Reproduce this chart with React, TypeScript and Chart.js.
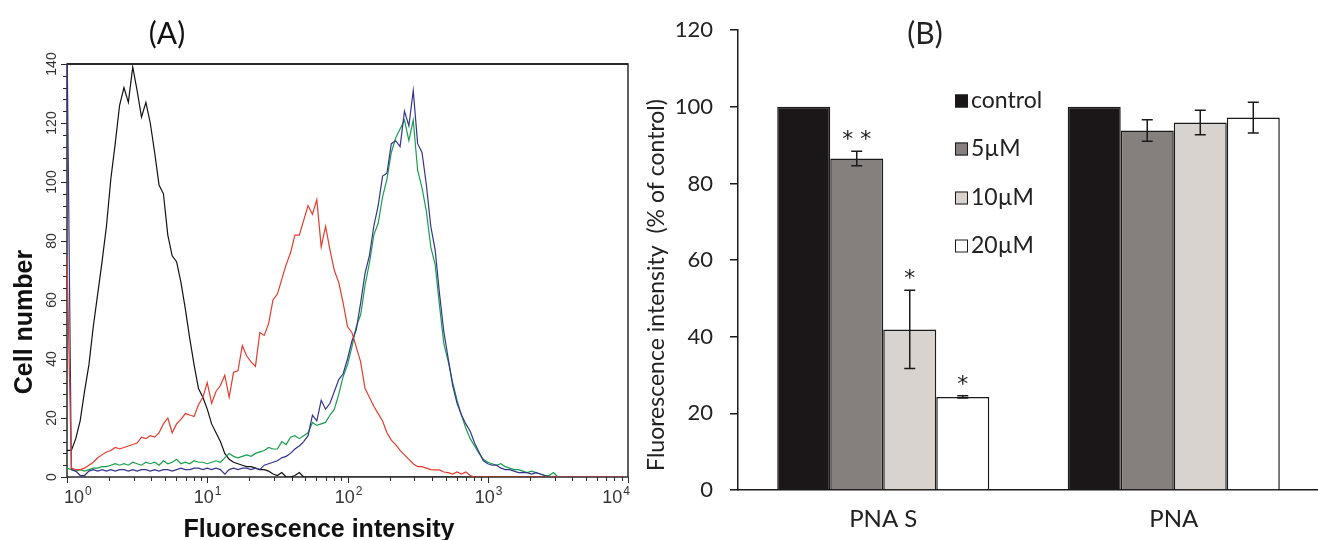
import React, { useEffect, useRef } from "react";
import { Chart, registerables } from "chart.js";

Chart.register(...registerables);

// ---------------- Panel A : flow cytometry histograms (128 channels, 32 per decade) ----------------
const channelsPerDecade = 32;
const decadeExponents = ["0", "1", "2", "3", "4"];
const countTicksA = [0, 20, 40, 60, 80, 100, 120, 140];

const blackCounts = [
  9, 9, 13, 19, 29, 38, 51, 62, 73, 85,
  101, 113, 126, 132, 127, 139, 131, 122, 127, 120,
  110, 99, 96, 82, 75, 73, 66, 57, 47, 38,
  30, 27, 23, 18, 15, 12, 8, 6, 5, 4.5,
  4, 3.5, 3.5, 3, 2.5, 2.5, 2, 1, 0.5, 1.5,
  0, 0, 0.5, 1.5, 0, 0, 0, 0, 0, 0,
  0, 0, 0, 0, 0, 0, 0, 0, 0, 0,
  0, 0, 0, 0, 0, 0, 0, 0, 0, 0,
  0, 0, 0, 0, 0, 0, 0, 0, 0, 0,
  0, 0, 0, 0, 0, 0, 0, 0, 0, 0,
  0, 0, 0, 0, 0, 0, 0, 0, 0, 0,
  0, 0, 0, 0, 0, 0, 0, 0, 0, 0,
  0, 0, 0, 0, 0, 0, 0, 0,
];

const redCounts = [
  75, 3, 2.5, 2.5, 3, 4, 5, 6.5, 7.5, 8.5,
  9, 10, 9.5, 10, 10.5, 11, 11.5, 13.5, 13, 14,
  13.5, 15, 18, 20, 15, 18, 19.5, 21.5, 21, 20.5,
  24.5, 27, 32, 25, 29, 31, 34.5, 27, 35.5, 36,
  44.5, 41, 39, 37.5, 49, 48, 52, 60, 62, 67,
  72, 76, 82, 82, 87, 92, 89, 94, 78, 85,
  77, 70, 66, 59, 51, 49, 44, 39, 30, 27,
  24, 21.5, 19, 15, 12.5, 11, 9, 7.5, 6, 4.5,
  3.5, 3.5, 3, 2.5, 2.4, 2.4, 1.7, 1.5, 1, 1.7,
  1, 1.7, 0.5, 0, 0, 0, 0, 0, 0, 0,
  0, 0, 0, 0, 0, 0, 0, 0, 0, 0,
  0, 0, 0, 0, 0, 0, 0, 0, 0, 0,
  0, 0, 0, 0, 0, 0, 0, 0,
];

const greenCounts = [
  3, 2.5, 2, 2.5, 2, 2.5, 3, 3, 3.5, 3.5,
  4, 4.5, 4, 4.5, 4, 5, 4.5, 4, 5, 4.5,
  5, 4, 5.5, 4.5, 5, 6, 4.5, 5, 4.5, 5.5,
  5, 5, 4.5, 5, 5.5, 5, 6.5, 8, 7, 6.5,
  7, 7.5, 7, 8, 8.5, 9, 10, 9.5, 9.5, 12,
  11, 13.5, 14, 13, 14, 15, 18.5, 17.5, 18, 18.5,
  21, 23, 28, 34, 38, 44, 51, 55, 65, 72.5,
  82, 86, 95, 101, 110, 115, 118, 121, 114, 121,
  104, 98, 90, 78, 72, 58, 45, 39, 32, 26,
  21, 16.5, 13, 10.5, 8, 6, 5, 4.5, 4, 4.5,
  3.5, 3, 2.5, 2.5, 2, 1.5, 2, 1.5, 1, 0.5,
  0.5, 1.5, 0, 0, 0, 0, 0, 0, 0, 0,
  0, 0, 0, 0, 0, 0, 0, 0,
];

const blueCounts = [
  150, 2.5, 2, 0.5, 0.5, 2, 2.5, 2, 2.5, 2,
  2.5, 2, 2.5, 2.5, 2, 2.5, 2, 2.5, 2.5, 2,
  2.5, 2, 2.5, 2.5, 2, 2.5, 3, 2.5, 2.5, 3,
  3, 2.5, 3, 2.5, 3, 2.5, 1, 2.5, 3, 2.5,
  3, 3, 2.5, 3, 2.5, 4, 4.5, 5, 5.5, 6.5,
  7, 8, 9.5, 10.5, 12, 14, 21, 19, 26, 23,
  25, 29, 33, 35, 40, 46, 50, 59, 69, 75,
  85, 92, 102, 103, 113, 114, 112, 124, 119, 131,
  113, 110, 99, 85, 77, 62, 49, 40, 31, 25,
  21, 18, 15.5, 11.5, 8.5, 5.5, 4.5, 4, 4, 3,
  2.5, 2.5, 2, 1.5, 1.5, 1.5, 1, 1.5, 1, 0.5,
  0, 0, 0, 0, 0, 0, 0, 0, 0, 0,
  0, 0, 0, 0, 0, 0, 0, 0,
];

// ---------------- Panel B : grouped bars ----------------
const groupLabels = ["PNA S", "PNA"];
const seriesLabels = ["control", "5µM", "10µM", "20µM"];
const controlValues = [100, 100];
const uM5Values = [86.5, 93.8];
const uM10Values = [41.9, 95.9];
const uM20Values = [24.3, 97.2];
const controlErrors = [0, 0];
const uM5Errors = [1.9, 2.8];
const uM10Errors = [10.2, 3.2];
const uM20Errors = [0.3, 4.0];
const controlMarks = ["", ""];
const uM5Marks = ["**", ""];
const uM10Marks = ["*", ""];
const uM20Marks = ["*", ""];
const percentTicksB = [0, 20, 40, 60, 80, 100, 120];

const ARIAL = "'Liberation Sans', Arial, sans-serif";
const NARROW = "'Liberation Sans Narrow', 'Liberation Sans', Arial, sans-serif";
const CAL = "Lato, 'Open Sans', sans-serif";
const STAR = "'DejaVu Sans', sans-serif";

const toPoints = (arr: number[]) => arr.map((v, i) => ({ x: i, y: v }));

const panelAPlugin = {
  id: "panelA",
  beforeDatasetsDraw(chart: any) {
    const { ctx, chartArea: a } = chart;
    ctx.save();
    ctx.strokeStyle = "#2a2a2a";
    ctx.lineWidth = 1.5;
    ctx.strokeRect(a.left, a.top, a.right - a.left, a.bottom - a.top);
    ctx.lineWidth = 2.2;
    ctx.beginPath();
    ctx.moveTo(a.left, a.top);
    ctx.lineTo(a.right, a.top);
    ctx.stroke();
    ctx.restore();
  },
  afterDraw(chart: any) {
    const { ctx, chartArea: a, scales } = chart;
    const xs = scales.x;
    const ys = scales.y;
    ctx.save();
    ctx.strokeStyle = "#2a2a2a";
    ctx.fillStyle = "#333";
    ctx.lineWidth = 1;
    // y ticks (minor every 4, major every 20)
    for (let v = 0; v <= 140; v += 4) {
      const py = Math.round(ys.getPixelForValue(v)) + 0.5;
      const len = v % 20 === 0 ? 6 : 4;
      ctx.beginPath();
      ctx.moveTo(a.left - len, py);
      ctx.lineTo(a.left, py);
      ctx.stroke();
    }
    ctx.font = `14px ${NARROW}`;
    ctx.textAlign = "center";
    ctx.textBaseline = "alphabetic";
    countTicksA.forEach((v) => {
      const py = ys.getPixelForValue(v);
      ctx.save();
      ctx.translate(a.left - 11, py);
      ctx.rotate(-Math.PI / 2);
      ctx.fillText(String(v), 0, 0);
      ctx.restore();
    });
    // x ticks (log decades)
    decadeExponents.forEach((e, d) => {
      const base = d * channelsPerDecade;
      const px = Math.round(xs.getPixelForValue(base)) + 0.5;
      ctx.beginPath();
      ctx.moveTo(px, a.bottom);
      ctx.lineTo(px, a.bottom + 6);
      ctx.stroke();
      if (d < decadeExponents.length - 1) {
        for (let k = 2; k <= 9; k++) {
          const mx = Math.round(xs.getPixelForValue(base + channelsPerDecade * Math.log10(k))) + 0.5;
          ctx.beginPath();
          ctx.moveTo(mx, a.bottom);
          ctx.lineTo(mx, a.bottom + 4);
          ctx.stroke();
        }
      }
      // label 10^e
      ctx.font = `18px ${ARIAL}`;
      const w1 = ctx.measureText("10").width;
      ctx.font = `12px ${ARIAL}`;
      const w2 = ctx.measureText(e).width;
      const w = w1 + w2 + 1;
      let x0 = px - w / 2;
      x0 = Math.max(x0, a.left - 3);
      x0 = Math.min(x0, a.right + 2 - w);
      ctx.textAlign = "left";
      ctx.font = `18px ${ARIAL}`;
      ctx.fillText("10", x0, a.bottom + 26);
      ctx.font = `12px ${ARIAL}`;
      ctx.fillText(e, x0 + w1 + 1, a.bottom + 18);
    });
    // axis titles
    ctx.fillStyle = "#111";
    ctx.font = `bold 25px ${ARIAL}`;
    ctx.textAlign = "center";
    ctx.fillText("Fluorescence intensity", 319, 537);
    ctx.save();
    ctx.translate(32, 322);
    ctx.rotate(-Math.PI / 2);
    ctx.fillText("Cell number", 0, 0);
    ctx.restore();
    ctx.font = `30px ${CAL}`;
    ctx.textBaseline = "middle";
    ctx.fillText("(A)", 167, 34);
    ctx.restore();
  },
};

const seriesB = [
  { values: controlValues, errors: controlErrors, marks: controlMarks, color: "#1b1718" },
  { values: uM5Values, errors: uM5Errors, marks: uM5Marks, color: "#857f7d" },
  { values: uM10Values, errors: uM10Errors, marks: uM10Marks, color: "#d9d3d0" },
  { values: uM20Values, errors: uM20Errors, marks: uM20Marks, color: "#ffffff" },
];

const panelBPlugin = {
  id: "panelB",
  afterDatasetsDraw(chart: any) {
    const { ctx, scales } = chart;
    const ys = scales.y;
    ctx.save();
    ctx.strokeStyle = "#1a1a1a";
    ctx.fillStyle = "#1a1a1a";
    ctx.lineWidth = 1.5;
    seriesB.forEach((s, i) => {
      const meta = chart.getDatasetMeta(i);
      meta.data.forEach((bar: any, j: number) => {
        const v = s.values[j];
        const e = s.errors[j];
        const x = bar.x;
        const top = ys.getPixelForValue(v + e);
        if (e > 0) {
          const bot = ys.getPixelForValue(v - e);
          ctx.beginPath();
          ctx.moveTo(x, top);
          ctx.lineTo(x, bot);
          ctx.moveTo(x - 5.5, top);
          ctx.lineTo(x + 5.5, top);
          ctx.moveTo(x - 5.5, bot);
          ctx.lineTo(x + 5.5, bot);
          ctx.stroke();
        }
        if (s.marks[j]) {
          ctx.font = `22px ${STAR}`;
          ctx.textAlign = "center";
          ctx.textBaseline = "alphabetic";
          ctx.fillText(s.marks[j].split("").join(" "), x, top - 5);
        }
      });
    });
    ctx.restore();
  },
  afterDraw(chart: any) {
    const { ctx } = chart;
    ctx.save();
    // legend
    const legendX = 315;
    const rowsY = [101, 149, 198, 246];
    seriesLabels.forEach((lab, i) => {
      const y = rowsY[i];
      ctx.fillStyle = seriesB[i].color;
      ctx.fillRect(legendX, y - 6.5, 13, 13);
      ctx.strokeStyle = "#1a1a1a";
      ctx.lineWidth = 1;
      ctx.strokeRect(legendX + 0.5, y - 6, 12, 12);
      ctx.fillStyle = "#222";
      ctx.font = `23px ${CAL}`;
      ctx.textAlign = "left";
      ctx.textBaseline = "middle";
      ctx.fillText(lab, legendX + 16, y);
    });
    // y title
    ctx.fillStyle = "#222";
    ctx.font = `23px ${CAL}`;
    ctx.textAlign = "center";
    ctx.textBaseline = "alphabetic";
    ctx.save();
    ctx.translate(24, 285);
    ctx.rotate(-Math.PI / 2);
    ctx.fillText("Fluorescence intensity  (% of control)", 0, 0);
    ctx.restore();
    ctx.font = `30px ${CAL}`;
    ctx.textBaseline = "middle";
    ctx.fillText("(B)", 285, 34);
    ctx.restore();
  },
};

export default function App() {
  const refA = useRef<HTMLCanvasElement>(null);
  const refB = useRef<HTMLCanvasElement>(null);

  useEffect(() => {
    const lineDs = (label: string, arr: number[], color: string) => ({
      label,
      data: toPoints(arr),
      borderColor: color,
      backgroundColor: color,
      borderWidth: 1.2,
      pointRadius: 0,
      tension: 0,
      fill: false,
    });
    const chartA = new Chart(refA.current!, {
      type: "line",
      data: {
        datasets: [
          lineDs("red", redCounts, "#e53b2c"),
          lineDs("blue", blueCounts, "#34348f"),
          lineDs("green", greenCounts, "#17a04b"),
          lineDs("black", blackCounts, "#111111"),
        ],
      },
      options: {
        responsive: false,
        animation: false,
        events: [],
        layout: { padding: { left: 67, right: 12, top: 64, bottom: 63 } },
        plugins: { legend: { display: false }, tooltip: { enabled: false } },
        scales: {
          x: { type: "linear", min: 0, max: channelsPerDecade * 4, display: false },
          y: { type: "linear", min: 0, max: 140, display: false },
        },
      },
      plugins: [panelAPlugin],
    } as any);

    const chartB = new Chart(refB.current!, {
      type: "bar",
      data: {
        labels: groupLabels,
        datasets: seriesB.map((s, i) => ({
          label: seriesLabels[i],
          data: s.values,
          backgroundColor: s.color,
          borderColor: "#1a1a1a",
          borderWidth: 1.5,
          categoryPercentage: 0.73,
          barPercentage: 1,
        })),
      },
      options: {
        responsive: false,
        animation: false,
        events: [],
        layout: { padding: { left: 0, right: 11, top: 25, bottom: 0 } },
        plugins: { legend: { display: false }, tooltip: { enabled: false } },
        scales: {
          x: {
            grid: { display: false, drawTicks: false },
            border: { display: true, color: "#1a1a1a", width: 1.5 },
            ticks: { font: { family: CAL, size: 24 }, color: "#222", padding: 15 },
            afterFit: (s: any) => { s.height = 50; },
          },
          y: {
            min: 0,
            max: 120,
            afterBuildTicks: (s: any) => { s.ticks = percentTicksB.map((v) => ({ value: v })); },
            ticks: { font: { family: CAL, size: 22 }, color: "#222", padding: 17 },
            grid: { display: true, drawOnChartArea: false, drawTicks: true, tickLength: 8, color: "#1a1a1a", lineWidth: 1.5 },
            border: { display: true, color: "#1a1a1a", width: 1.5 },
            afterFit: (s: any) => { s.width = 98; },
          },
        },
      },
      plugins: [panelBPlugin],
    } as any);

    return () => {
      chartA.destroy();
      chartB.destroy();
    };
  }, []);

  return (
    <div style={{ position: "fixed", left: 0, top: 0, width: 1318, height: 540, overflow: "hidden", background: "#fff" }}>
      <canvas ref={refA} width={640} height={540} style={{ position: "absolute", left: 0, top: 0 }} />
      <canvas ref={refB} width={690} height={540} style={{ position: "absolute", left: 640, top: 0 }} />
    </div>
  );
}
